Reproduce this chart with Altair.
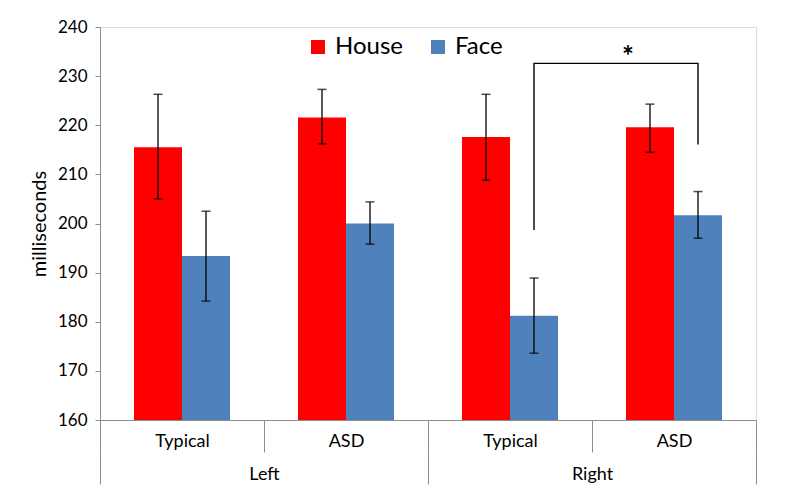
import altair as alt
import pandas as pd

hemispheres = ["Left", "Left", "Right", "Right"]
groups = ["Typical", "ASD", "Typical", "ASD"]
series = ["House", "Face"]
house_mean = [215.5, 221.6, 217.6, 219.6]
house_lo = [205.0, 216.2, 208.8, 214.5]
house_hi = [226.3, 227.3, 226.3, 224.3]
face_mean = [193.4, 200.0, 181.2, 201.7]
face_lo = [184.2, 195.8, 173.6, 197.0]
face_hi = [202.5, 204.4, 188.9, 206.5]
y_ticks = [160, 170, 180, 190, 200, 210, 220, 230, 240]

# significance bracket between Right/Typical Face and Right/ASD Face
bracket_cond = ["Right|Typical", "Right|Typical", "Right|ASD", "Right|ASD"]
bracket_y = [198.7, 232.6, 232.6, 216.1]

conds = [f"{h}|{g}" for h, g in zip(hemispheres, groups)]
rows = []
for i, c in enumerate(conds):
    rows.append(dict(cond=c, hemi=hemispheres[i], series="House", mean=house_mean[i], lo=house_lo[i], hi=house_hi[i]))
    rows.append(dict(cond=c, hemi=hemispheres[i], series="Face", mean=face_mean[i], lo=face_lo[i], hi=face_hi[i]))
df = pd.DataFrame(rows)

bracket_df = pd.DataFrame(dict(cond=bracket_cond, y=bracket_y, series="Face", order=list(range(len(bracket_y)))))
star_df = pd.DataFrame(dict(cond=["Right|ASD"], y=[bracket_y[1]], t=["*"]))
hemi_df = pd.DataFrame(dict(hemi=["Left", "Right"]))

GRAY = "#8c8c8c"
FONT = "Lato"

x_enc = alt.X("cond:N", sort=conds,
              scale=alt.Scale(paddingInner=0, paddingOuter=0),
              axis=alt.Axis(title=None,
                            labelExpr="slice(datum.label, indexof(datum.label, '|') + 1)",
                            labelAngle=0, tickBand="extent", tickSize=32,
                            tickColor=GRAY, domainColor=GRAY, labelPadding=-11,
                            labelBaseline="middle", labelFontSize=18,
                            labelColor="black", orient="bottom"))
xoff = alt.XOffset("series:N", sort=series, scale=alt.Scale(paddingInner=0, paddingOuter=0.708))
y_enc = alt.Y("mean:Q", scale=alt.Scale(domain=[160, 240], nice=False, zero=False),
              axis=alt.Axis(values=y_ticks, title="milliseconds", grid=False,
                            domainColor=GRAY, tickColor=GRAY, tickSize=5,
                            labelPadding=8, labelFontSize=17, labelColor="black",
                            titleFontSize=20, titleFontWeight="normal",
                            titleColor="black", titlePadding=8))

base = alt.Chart(df)
bars = base.mark_bar(clip=True).encode(
    x=x_enc, xOffset=xoff, y=y_enc,
    color=alt.Color("series:N", sort=series,
                    scale=alt.Scale(domain=series, range=["#FF0000", "#4F81BD"]),
                    legend=alt.Legend(title=None, orient="none", legendX=206, legendY=8,
                                      direction="horizontal", symbolType="square",
                                      symbolSize=196, symbolStrokeWidth=0,
                                      labelFontSize=24, labelColor="black",
                                      columnPadding=22, labelOffset=5, padding=0)),
)
err = base.mark_rule(color="black", strokeWidth=1.3).encode(
    x=alt.X("cond:N", sort=conds), xOffset=alt.XOffset("series:N", sort=series),
    y="lo:Q", y2="hi:Q")
cap_lo = base.mark_tick(color="black", size=9, thickness=1.5, orient="horizontal").encode(
    x=alt.X("cond:N", sort=conds), xOffset=alt.XOffset("series:N", sort=series), y="lo:Q")
cap_hi = base.mark_tick(color="black", size=9, thickness=1.5, orient="horizontal").encode(
    x=alt.X("cond:N", sort=conds), xOffset=alt.XOffset("series:N", sort=series), y="hi:Q")
bracket = alt.Chart(bracket_df).mark_line(color="black", strokeWidth=1.4).encode(
    x=alt.X("cond:N", sort=conds), xOffset=alt.XOffset("series:N", sort=series),
    y="y:Q", order="order:Q")
star = alt.Chart(star_df).mark_text(fontSize=28, fontWeight="bold", color="black",
                                    dx=36, dy=9, baseline="bottom").encode(
    x=alt.X("cond:N", sort=conds, bandPosition=0), y="y:Q", text="t:N")

inner = alt.layer(bars, err, cap_lo, cap_hi, bracket, star)

hemi_layer = alt.Chart(hemi_df).mark_point(opacity=0).encode(
    x=alt.X("hemi:N", sort=["Left", "Right"],
            scale=alt.Scale(paddingInner=0, paddingOuter=0),
            axis=alt.Axis(title=None, orient="bottom", offset=32, domain=False,
                          tickBand="extent", tickSize=32, tickColor=GRAY,
                          labelAngle=0, labelPadding=-10, labelBaseline="middle",
                          labelFontSize=18, labelColor="black")),
    y=alt.value(0))

chart = alt.layer(inner, hemi_layer).resolve_scale(x="independent").properties(
    width=656, height=393,
    autosize=alt.AutoSizeParams(type="none"),
    padding={"left": 92, "top": 19, "right": 36, "bottom": 70},
).configure_view(stroke=None).configure(font=FONT)

chart.save("out.html", embed_options={"renderer": "svg", "actions": False})
